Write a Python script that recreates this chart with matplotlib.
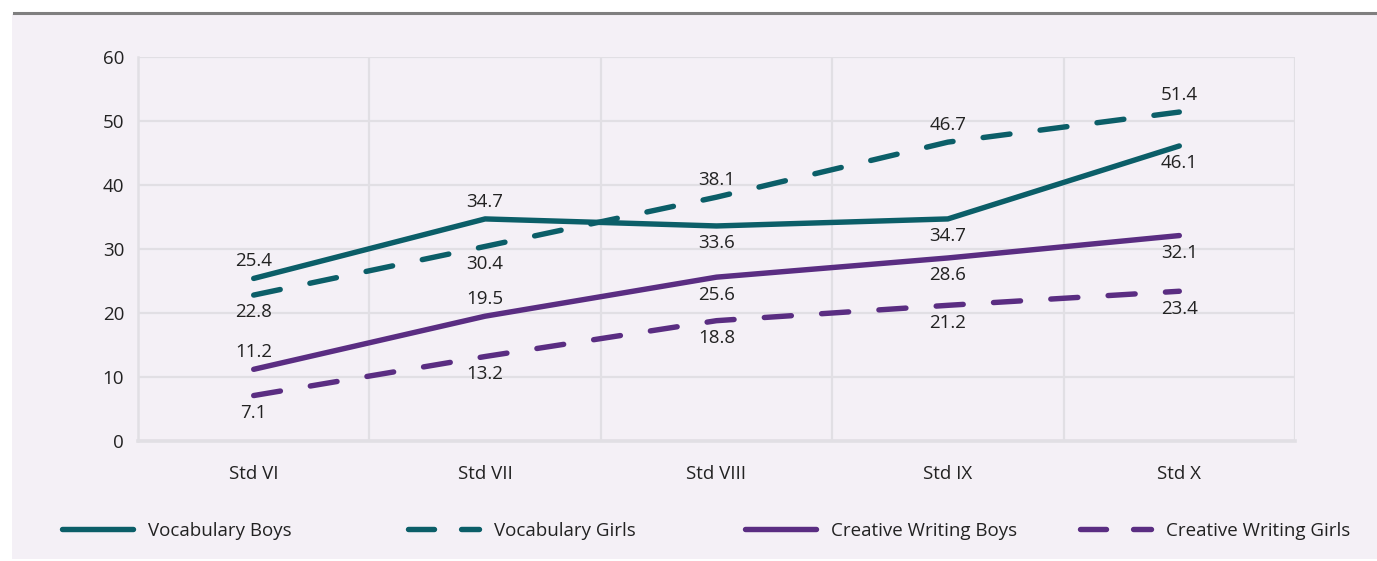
import numpy as np
import matplotlib.pyplot as plt
from matplotlib.patches import Rectangle
from matplotlib.lines import Line2D

plt.rcParams['font.family'] = ['Open Sans', 'DejaVu Sans']

categories = ['Std VI', 'Std VII', 'Std VIII', 'Std IX', 'Std X']
vocab_boys = [25.4, 34.7, 33.6, 34.7, 46.1]
vocab_girls = [22.8, 30.4, 38.1, 46.7, 51.4]
cw_boys = [11.2, 19.5, 25.6, 28.6, 32.1]
cw_girls = [7.1, 13.2, 18.8, 21.2, 23.4]
series_names = ['Vocabulary Boys', 'Vocabulary Girls', 'Creative Writing Boys', 'Creative Writing Girls']
# label placement per point: +1 above, -1 below
label_side = [
    [1, 1, -1, -1, -1],
    [-1, -1, 1, 1, 1],
    [1, 1, -1, -1, -1],
    [-1, -1, -1, -1, -1],
]

teal = '#0b5e68'
purple = '#5a2d82'
bg = '#f4f0f6'
gridc = '#e1dfe4'
fs = 13.5

W, H = 1377, 561
fig = plt.figure(figsize=(W / 100, H / 100), dpi=100)
fig.patch.set_facecolor('white')
fig.patches.append(Rectangle((12 / W, 2 / H), 1 - 12 / W, (H - 16) / H,
                             transform=fig.transFigure, facecolor=bg, edgecolor='none', zorder=-5))
fig.lines.append(Line2D([14 / W, 1], [1 - 13 / H, 1 - 13 / H], transform=fig.transFigure,
                        color='#7f7f7f', lw=2.2, zorder=-4))

ax = fig.add_axes([138 / W, 1 - 441 / H, (1295 - 138) / W, (441 - 57) / H])
ax.set_facecolor(bg)
x = np.arange(len(categories))
all_series = [vocab_boys, vocab_girls, cw_boys, cw_girls]
colors = [teal, teal, purple, purple]
dashed = [False, True, False, True]
handles = []
for vals, c, d, name, sides in zip(all_series, colors, dashed, series_names, label_side):
    kw = dict(color=c, lw=3.9, solid_capstyle='round', dash_capstyle='round', zorder=3)
    if d:
        kw['dashes'] = (5.0, 5.6)
    ax.plot(x, vals, **kw)
    hk = dict(kw)
    if d:
        hk['dashes'] = (4.8, 5.0)
    handles.append(Line2D([], [], label=name, **hk))
    for xi, v, s in zip(x, vals, sides):
        ax.annotate(f'{v}', (xi, v), xytext=(0, 12.5 * s), textcoords='offset points',
                    ha='center', va='center', fontsize=fs, color='#222222', zorder=4)

ax.set_xlim(-0.5, 4.5)
ax.set_ylim(0, 60)
ax.set_yticks(range(0, 61, 10))
ax.set_xticks(x)
ax.set_xticklabels(categories)
ax.set_xticks(np.arange(0.5, 4.6, 1), minor=True)
ax.grid(axis='y', which='major', color=gridc, lw=1.6)
ax.grid(axis='x', which='minor', color=gridc, lw=1.6)
ax.grid(axis='x', which='major', visible=False)
ax.tick_params(axis='both', which='both', length=0, labelsize=fs, colors='#222222')
ax.tick_params(axis='y', pad=10)
ax.tick_params(axis='x', pad=17)
for s in ['top', 'right']:
    ax.spines[s].set_visible(False)
ax.spines['left'].set_color(gridc)
ax.spines['left'].set_linewidth(1.8)
ax.spines['bottom'].set_color(gridc)
ax.spines['bottom'].set_linewidth(2.6)

leg_x = [62, 408, 745, 1080]
for h, lx in zip(handles, leg_x):
    fig.legend([h], [h.get_label()], loc='center left', bbox_to_anchor=(lx / W, 1 - 531 / H),
               frameon=False, fontsize=fs, handlelength=3.8, handletextpad=0.8,
               borderpad=0, borderaxespad=0, labelcolor='#222222')

fig.savefig('out.png', dpi=100, facecolor=fig.get_facecolor())
